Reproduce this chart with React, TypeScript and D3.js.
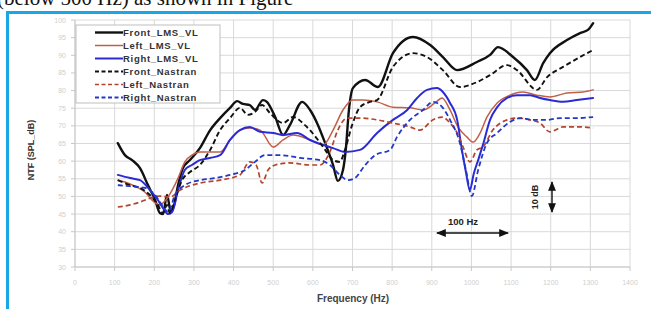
import React from "react";
import * as d3 from "d3";

const xTicks = [0, 100, 200, 300, 400, 500, 600, 700, 800, 900, 1000, 1100, 1200, 1300, 1400];
const yTicks = [30, 35, 40, 45, 50, 55, 60, 65, 70, 75, 80, 85, 90, 95, 100];

const seriesNames = ["Front_LMS_VL", "Left_LMS_VL", "Right_LMS_VL", "Front_Nastran", "Left_Nastran", "Right_Nastran"];

const frontLMS: [number, number][] = [
  [108, 65.1], [126, 61.7], [144, 60.3], [164, 58.0], [184, 53.2], [202, 49.0], [214, 45.3], [222, 45.0],
  [232, 50.4], [242, 45.6], [250, 47.6], [260, 53.2], [272, 58.0], [290, 60.3], [315, 63.7], [341, 68.8],
  [366, 72.2], [391, 75.1], [409, 77.0], [424, 76.2], [441, 75.9], [454, 74.5], [474, 77.3], [484, 76.8],
  [505, 72.5], [525, 67.4], [542, 70.2], [573, 76.8], [593, 74.5], [613, 70.2], [631, 65.1], [651, 58.9],
  [663, 54.4], [676, 57.5], [683, 63.2], [691, 74.5], [701, 80.7], [732, 83.0], [764, 81.0], [802, 90.6],
  [853, 95.2], [896, 92.9], [928, 89.5], [964, 85.8], [1014, 88.1], [1047, 90.1], [1067, 92.3], [1105, 89.5],
  [1140, 85.8], [1160, 83.0], [1181, 87.8], [1198, 90.6], [1241, 94.3], [1274, 96.3], [1294, 97.2], [1307, 99.1],
];

const leftLMS: [number, number][] = [
  [108, 54.6], [126, 54.1], [151, 52.9], [177, 51.2], [194, 49.0], [214, 47.6], [229, 49.0], [245, 51.8],
  [260, 55.2], [277, 59.8], [295, 61.7], [315, 62.6], [341, 62.6], [366, 62.6], [391, 66.0], [416, 68.8],
  [441, 69.4], [467, 68.8], [500, 64.0], [525, 66.0], [550, 67.4], [593, 66.0], [626, 64.6], [651, 68.8],
  [676, 74.5], [701, 77.3], [727, 77.3], [762, 76.8], [802, 75.3], [845, 75.1], [878, 74.5], [908, 76.5],
  [926, 77.9], [946, 74.5], [966, 69.7], [989, 66.8], [1004, 65.4], [1022, 68.0], [1039, 72.5], [1065, 76.5],
  [1097, 78.7], [1130, 79.6], [1165, 78.7], [1198, 78.2], [1241, 79.3], [1282, 79.6], [1307, 80.2],
];

const rightLMS: [number, number][] = [
  [108, 56.1], [139, 55.2], [164, 54.6], [189, 51.8], [209, 49.0], [222, 46.7], [235, 45.0], [245, 45.6],
  [260, 51.8], [277, 57.5], [295, 58.9], [315, 60.3], [341, 60.9], [366, 61.7], [391, 66.0], [416, 68.8],
  [441, 69.7], [467, 68.3], [500, 68.0], [525, 67.4], [560, 68.0], [593, 66.0], [626, 64.6], [651, 63.7],
  [681, 62.6], [719, 63.2], [762, 68.0], [802, 71.7], [838, 74.5], [863, 77.9], [888, 80.2], [913, 80.7],
  [928, 79.6], [946, 76.5], [964, 71.7], [976, 63.2], [986, 57.0], [996, 51.8], [1006, 56.5], [1017, 60.3],
  [1029, 64.6], [1047, 71.7], [1065, 75.3], [1090, 77.9], [1115, 78.7], [1148, 78.7], [1173, 77.9],
  [1198, 77.3], [1231, 76.8], [1266, 77.3], [1307, 77.9],
];

const frontNastran: [number, number][] = [
  [108, 54.6], [139, 53.2], [164, 52.4], [189, 50.4], [209, 47.6], [222, 45.3], [232, 47.6], [239, 45.3],
  [252, 49.0], [270, 54.6], [290, 56.9], [315, 58.9], [341, 63.2], [366, 68.8], [391, 72.2], [416, 75.1],
  [436, 73.1], [454, 73.9], [472, 75.9], [492, 73.6], [525, 70.8], [550, 72.5], [580, 70.2], [613, 66.0],
  [631, 63.2], [651, 60.3], [668, 59.8], [681, 63.2], [699, 70.2], [719, 75.3], [744, 76.8], [762, 77.3],
  [802, 86.7], [853, 90.6], [888, 89.5], [928, 85.8], [971, 81.0], [1014, 82.4], [1047, 84.4], [1090, 87.2],
  [1115, 85.8], [1165, 80.2], [1191, 83.8], [1231, 86.7], [1274, 89.5], [1307, 91.5],
];

const leftNastran: [number, number][] = [
  [108, 47.0], [139, 47.6], [164, 48.4], [189, 49.5], [214, 50.1], [239, 49.8], [265, 51.8], [315, 53.8],
  [366, 54.6], [416, 56.1], [441, 59.8], [457, 58.9], [472, 53.8], [487, 57.5], [505, 58.9], [542, 59.5],
  [593, 58.9], [618, 58.9], [643, 62.6], [663, 68.8], [686, 72.2], [719, 72.2], [762, 71.7], [802, 70.8],
  [845, 69.7], [870, 68.8], [903, 71.7], [926, 72.5], [946, 70.8], [964, 68.0], [979, 64.0], [996, 59.8],
  [1014, 63.2], [1029, 64.0], [1054, 68.8], [1090, 71.7], [1115, 72.2], [1148, 71.7], [1173, 70.8],
  [1198, 68.3], [1231, 69.7], [1274, 69.7], [1307, 69.4],
];

const rightNastran: [number, number][] = [
  [108, 53.2], [139, 52.9], [177, 52.4], [202, 50.4], [219, 47.6], [235, 45.6], [252, 50.4], [277, 53.2],
  [315, 54.6], [353, 55.2], [391, 56.1], [429, 57.5], [454, 59.8], [479, 61.7], [517, 61.7], [568, 60.9],
  [618, 60.3], [643, 58.9], [668, 56.1], [689, 54.6], [706, 55.2], [732, 58.9], [757, 61.7], [795, 63.2],
  [812, 66.8], [845, 71.7], [878, 74.5], [903, 76.8], [928, 75.1], [946, 71.7], [971, 65.1], [986, 57.5],
  [1001, 50.1], [1017, 57.5], [1039, 65.1], [1065, 68.0], [1097, 71.1], [1123, 72.2], [1155, 71.7],
  [1191, 71.7], [1224, 72.2], [1266, 72.2], [1307, 72.5],
];

const styles = [
  { data: frontLMS, color: "#111111", width: 2.4, dash: "" },
  { data: leftLMS, color: "#c0604a", width: 1.5, dash: "" },
  { data: rightLMS, color: "#2b2bd6", width: 2.0, dash: "" },
  { data: frontNastran, color: "#111111", width: 1.9, dash: "5,3" },
  { data: leftNastran, color: "#b2452c", width: 1.7, dash: "5,3" },
  { data: rightNastran, color: "#2338c8", width: 1.8, dash: "5,3" },
];

export default function App() {
  const W = 651, H = 309;
  const x = d3.scaleLinear().domain([0, 1400]).range([75, 630]);
  const y = d3.scaleLinear().domain([30, 100]).range([267, 20]);
  const line = d3.line<[number, number]>().x(d => x(d[0])).y(d => y(d[1])).curve(d3.curveMonotoneX);
  const legX = 76, legY = 25;
  return (
    <svg width={W} height={H} style={{ position: "absolute", left: 0, top: 0, background: "#fff" }}
      fontFamily="'Liberation Sans', Arial, sans-serif">
      <defs>
        <marker id="ah" viewBox="0 0 10 10" refX="9" refY="5" markerWidth="7" markerHeight="7" orient="auto-start-reverse">
          <path d="M0,1 L10,5 L0,9 z" fill="#111" />
        </marker>
      </defs>
      <rect x={0} y={0} width={W} height={H} fill="#fff" />
      <text x={-3} y={5} fontFamily="'Liberation Serif', 'DejaVu Serif', serif" fontSize={21} fill="#111">(below 500 Hz) as shown in Figure</text>
      <rect x={6} y={11} width={W} height={3} fill="#1aa7e4" />
      <rect x={6} y={11} width={3} height={H} fill="#1aa7e4" />
      {yTicks.map(t => (
        <line key={"gy" + t} x1={75} x2={630} y1={y(t)} y2={y(t)} stroke="#d9d9d9" strokeWidth={1} />
      ))}
      {xTicks.map(t => (
        <line key={"gx" + t} x1={x(t)} x2={x(t)} y1={20} y2={267} stroke="#d9d9d9" strokeWidth={1} />
      ))}
      <line x1={75} x2={75} y1={20} y2={267} stroke="#c8c8c8" />
      <line x1={75} x2={630} y1={267} y2={267} stroke="#c8c8c8" />
      {yTicks.map(t => (
        <line key={"ty" + t} x1={71} x2={75} y1={y(t)} y2={y(t)} stroke="#c8c8c8" />
      ))}
      {xTicks.map(t => (
        <line key={"tx" + t} x1={x(t)} x2={x(t)} y1={267} y2={271} stroke="#c8c8c8" />
      ))}
      {yTicks.map(t => (
        <text key={"ly" + t} x={66} y={y(t) + 2.5} fontSize={7} textAnchor="end" fill="#cfcfcf">{t}</text>
      ))}
      {xTicks.map(t => (
        <text key={"lx" + t} x={x(t)} y={285} fontSize={7} textAnchor="middle" fill="#cfcfcf">{t}</text>
      ))}
      <text x={0} y={0} transform="translate(34,150) rotate(-90)" fontSize={9} fontWeight="bold" textAnchor="middle" fill="#333">NTF (SPL_dB)</text>
      <text x={353} y={302} fontSize={10} fontWeight="bold" textAnchor="middle" fill="#444">Frequency (Hz)</text>
      {styles.map((s, i) => (
        <path key={"s" + i} d={line(s.data) || ""} fill="none" stroke={s.color} strokeWidth={s.width}
          strokeDasharray={s.dash} strokeLinejoin="round" strokeLinecap={s.dash ? "butt" : "round"} />
      ))}
      <rect x={legX} y={legY} width={144} height={78} fill="#fff" stroke="#bfbfbf" strokeWidth={1} />
      {seriesNames.map((n, i) => {
        const s = styles[i];
        const yy = legY + 7.5 + i * 13;
        return (
          <g key={"lg" + i}>
            <line x1={legX + 19} x2={legX + 47} y1={yy} y2={yy} stroke={s.color} strokeWidth={s.width}
              strokeDasharray={s.dash ? "4,2.5" : ""} />
            <text x={legX + 47} y={yy + 3.3} fontSize={9.5} fontWeight="bold" fill="#333" letterSpacing={0.7}>{n}</text>
          </g>
        );
      })}
      <line x1={437} x2={508} y1={233} y2={233} stroke="#111" strokeWidth={1.4} markerStart="url(#ah)" markerEnd="url(#ah)" />
      <text x={463} y={225} fontSize={9.5} fontWeight="bold" textAnchor="middle" fill="#222">100 Hz</text>
      <line x1={552} x2={552} y1={182} y2={212} stroke="#111" strokeWidth={1.4} markerStart="url(#ah)" markerEnd="url(#ah)" />
      <text x={0} y={0} transform="translate(538,197) rotate(-90)" fontSize={9} fontWeight="bold" textAnchor="middle" fill="#222">10 dB</text>
    </svg>
  );
}
